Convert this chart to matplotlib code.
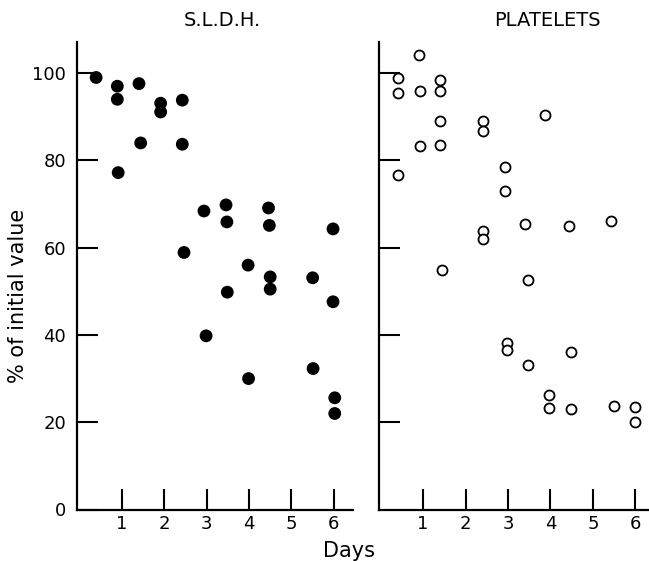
import matplotlib
matplotlib.use("Agg")
import matplotlib.pyplot as plt

# S.L.D.H. (filled circles)
sldh_days = [0.4, 0.9, 0.9, 0.92, 1.41, 1.45, 1.92, 1.92, 2.43, 2.43, 2.47,
             2.94, 2.99, 3.46, 3.48, 3.49, 3.98, 3.99, 4.46, 4.48, 4.5, 4.5,
             5.5, 5.51, 5.98, 5.98, 6.02, 6.02]
sldh_vals = [99.0, 97.0, 94.0, 77.2, 97.6, 84.0, 93.1, 91.1, 93.8, 83.7, 58.9,
             68.4, 39.8, 69.8, 65.9, 49.8, 56.0, 30.0, 69.1, 65.1, 53.3, 50.5,
             53.1, 32.3, 64.3, 47.6, 25.6, 22.0]

# Platelets (open circles)
plt_days = [0.4, 0.4, 0.41, 0.9, 0.92, 0.92, 1.39, 1.39, 1.39, 1.41, 1.45,
            2.42, 2.42, 2.42, 2.42, 2.92, 2.92, 2.98, 2.98, 3.41, 3.46, 3.48,
            3.87, 3.97, 3.97, 4.44, 4.49, 4.48, 5.43, 5.49, 6.0, 6.0]
plt_vals = [98.9, 95.5, 76.7, 104.2, 95.8, 83.4, 98.5, 95.8, 89.1, 83.6, 54.9,
            89.1, 86.7, 63.8, 62.1, 78.6, 73.0, 38.1, 36.6, 65.4, 52.7, 33.0,
            90.3, 26.3, 23.2, 65.0, 36.1, 23.0, 66.0, 23.7, 23.6, 20.0]

x_ticks = [1, 2, 3, 4, 5, 6]
y_ticks = [0, 20, 40, 60, 80, 100]
titles = ["S.L.D.H.", "PLATELETS"]

W, H = 649, 561
fig = plt.figure(figsize=(W / 100, H / 100), dpi=100)
fig.patch.set_facecolor("white")

font = "DejaVu Sans"
xlim = (-0.05, 6.45)
ylim = (0, 107.2)
ax_w = 276 / W
ax_h = 467.8 / H
bottom = (H - 509.5) / H

ax1 = fig.add_axes([77 / W, bottom, ax_w, ax_h])
ax2 = fig.add_axes([378.5 / W, bottom, ax_w, ax_h])

for ax in (ax1, ax2):
    ax.set_xlim(*xlim)
    ax.set_ylim(*ylim)
    for s in ("top", "right"):
        ax.spines[s].set_visible(False)
    for s in ("left", "bottom"):
        ax.spines[s].set_linewidth(1.6)
        ax.spines[s].set_color("black")
    ax.set_xticks(x_ticks)
    ax.set_xticklabels([str(t) for t in x_ticks], fontsize=13, family=font)
    ax.tick_params(axis="x", direction="in", length=15, width=1.5, pad=4)
    ax.set_yticks([t for t in y_ticks if t > 0])
    ax.tick_params(axis="y", direction="in", length=15, width=1.5, pad=8)
    ax.patch.set_alpha(0)

ax1.set_yticks(y_ticks)
ax1.set_yticklabels([str(t) for t in y_ticks], fontsize=13, family=font)
ax2.set_yticklabels([])

ax1.scatter(sldh_days, sldh_vals, s=85, color="black", edgecolors="none",
            zorder=3, clip_on=False)
ax2.scatter(plt_days, plt_vals, s=52, facecolors="white", edgecolors="black",
            linewidths=1.3, zorder=3, clip_on=False)

fig.text(222 / W, 1 - 20 / H, titles[0], ha="center", va="center",
         fontsize=14, family=font)
fig.text(547 / W, 1 - 20 / H, titles[1], ha="center", va="center",
         fontsize=14, family=font)
fig.text(18 / W, 1 - 296 / H, "% of initial value", ha="center", va="center",
         rotation=90, fontsize=15, family=font)
fig.text(349 / W, 1 - 551 / H, "Days", ha="center", va="center",
         fontsize=15, family=font)

fig.savefig("out.png", dpi=100, facecolor="white")
